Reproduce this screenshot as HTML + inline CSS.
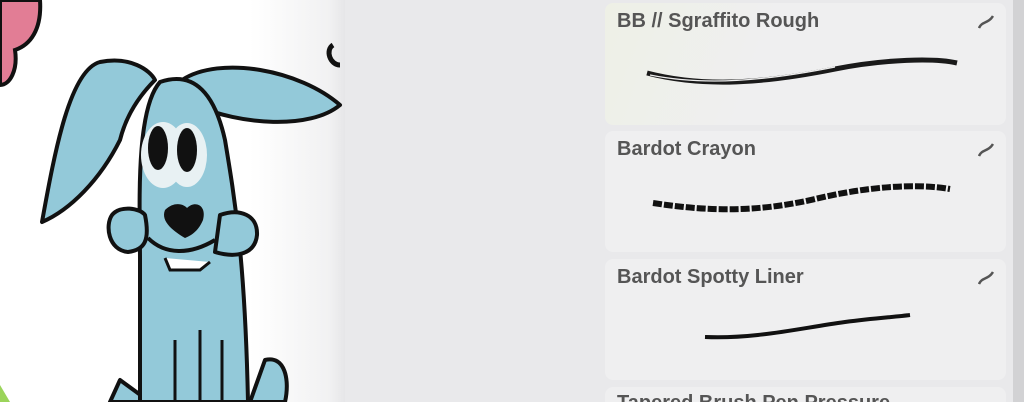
<!DOCTYPE html>
<html style="width:1024px;height:402px;overflow:hidden"><head><style>
body{margin:0;width:1024px;height:402px;overflow:hidden;background:#e9e9eb;font-family:"Liberation Sans",sans-serif;position:relative}
.canvas{position:absolute;left:0;top:0;width:345px;height:402px;background:linear-gradient(90deg,#fff 0,#fff 250px,#f1f1f2 330px,#e6e6e8 345px)}
.card{position:absolute;left:605px;width:401px;background:#efeff0;border-radius:8px;overflow:hidden}
.card .t{position:absolute;left:12px;top:7px;font-weight:bold;font-size:20px;color:#555}
.card .i{position:absolute;right:12px;top:12px}
.right{position:absolute;left:1013px;top:0;width:11px;height:402px;background:#d2d2d4}
</style></head><body>
<div class="canvas">
<svg width="345" height="402" viewBox="0 0 345 402">
<path d="M0 0 H40 C42 30 30 45 15 50 C18 70 10 85 0 85 Z" fill="#e27d95" stroke="#111" stroke-width="4"/>
<g fill="#93c9d9" stroke="#111" stroke-width="4" stroke-linejoin="round">
<path d="M42 222 C55 150 70 70 100 62 C130 56 150 70 155 80 C135 100 125 120 120 140 C100 180 70 210 42 222 Z"/>
<path d="M182 80 C220 55 300 70 340 105 C310 130 240 125 195 105 Z"/>
<path d="M120 380 L110 402 H150 Z"/>
<path d="M250 402 L265 360 C285 355 290 380 285 402 Z"/>
<path d="M140 260 C140 210 135 110 160 82 C195 70 215 95 225 140 C235 200 245 260 248 402 H140 Z"/>
<path d="M112 215 C120 205 140 208 145 215 C150 240 145 250 128 252 C108 250 105 225 112 215 Z"/>
<path d="M220 215 C240 208 258 215 257 235 C255 255 235 258 215 252 Z"/>
</g>
<ellipse cx="163" cy="155" rx="22" ry="33" fill="#e8f1f3"/>
<ellipse cx="187" cy="155" rx="20" ry="32" fill="#e8f1f3"/>
<ellipse cx="158" cy="148" rx="10" ry="22" fill="#111"/>
<ellipse cx="187" cy="150" rx="10" ry="22" fill="#111"/>
<path d="M165 210 C175 200 185 205 187 208 C195 200 207 205 203 220 C198 232 190 236 185 238 C175 232 160 222 165 210 Z" fill="#111"/>
<path d="M148 238 C165 255 190 255 215 240" fill="none" stroke="#111" stroke-width="4"/>
<path d="M165 258 L170 270 H200 L210 262" fill="#fff" stroke="#111" stroke-width="3"/>
<path d="M175 340 V400 M200 330 V400 M222 340 V400" stroke="#111" stroke-width="3"/>
<path d="M333 45 C325 50 330 65 340 65" fill="none" stroke="#111" stroke-width="5"/>
<path d="M0 385 L10 402 H0 Z" fill="#9bd45a"/>
</svg>
</div>
<div class="card" style="top:3px;height:122px;background:linear-gradient(110deg,#eef0e6 0,#efeff0 40%)"><div class="t">BB // Sgraffito Rough</div><svg class="i" width="16" height="14"><path d="M1 13 C4 6 10 9 15 1" fill="none" stroke="#555" stroke-width="2.5"/></svg>
<svg style="position:absolute;left:0;top:0" width="401" height="122"><path d="M42 70 C100 85 160 80 230 66 C280 56 330 55 352 60" fill="none" stroke="#1a1a1a" stroke-width="5"/><path d="M45 72 C100 83 160 78 230 64" fill="none" stroke="#eee" stroke-width="1.2"/></svg></div>
<div class="card" style="top:131px;height:121px"><div class="t">Bardot Crayon</div><svg class="i" width="16" height="14"><path d="M1 13 C4 6 10 9 15 1" fill="none" stroke="#555" stroke-width="2.5"/></svg>
<svg style="position:absolute;left:0;top:0" width="401" height="121"><path d="M48 72 C100 80 150 82 210 68 C260 56 310 52 345 58" fill="none" stroke="#111" stroke-width="6" stroke-dasharray="9 2"/></svg></div>
<div class="card" style="top:259px;height:121px"><div class="t">Bardot Spotty Liner</div><svg class="i" width="16" height="14"><path d="M1 13 C4 6 10 9 15 1" fill="none" stroke="#555" stroke-width="2.5"/></svg>
<svg style="position:absolute;left:0;top:0" width="401" height="121"><path d="M100 78 C150 80 190 70 240 63 C270 59 290 58 305 56" fill="none" stroke="#111" stroke-width="4"/></svg></div>
<div class="card" style="top:387px;height:15px;border-radius:8px 8px 0 0"><div class="t" style="top:5px">Tapered Brush Pen Pressure</div></div>
<div class="right"></div>
</body></html>
